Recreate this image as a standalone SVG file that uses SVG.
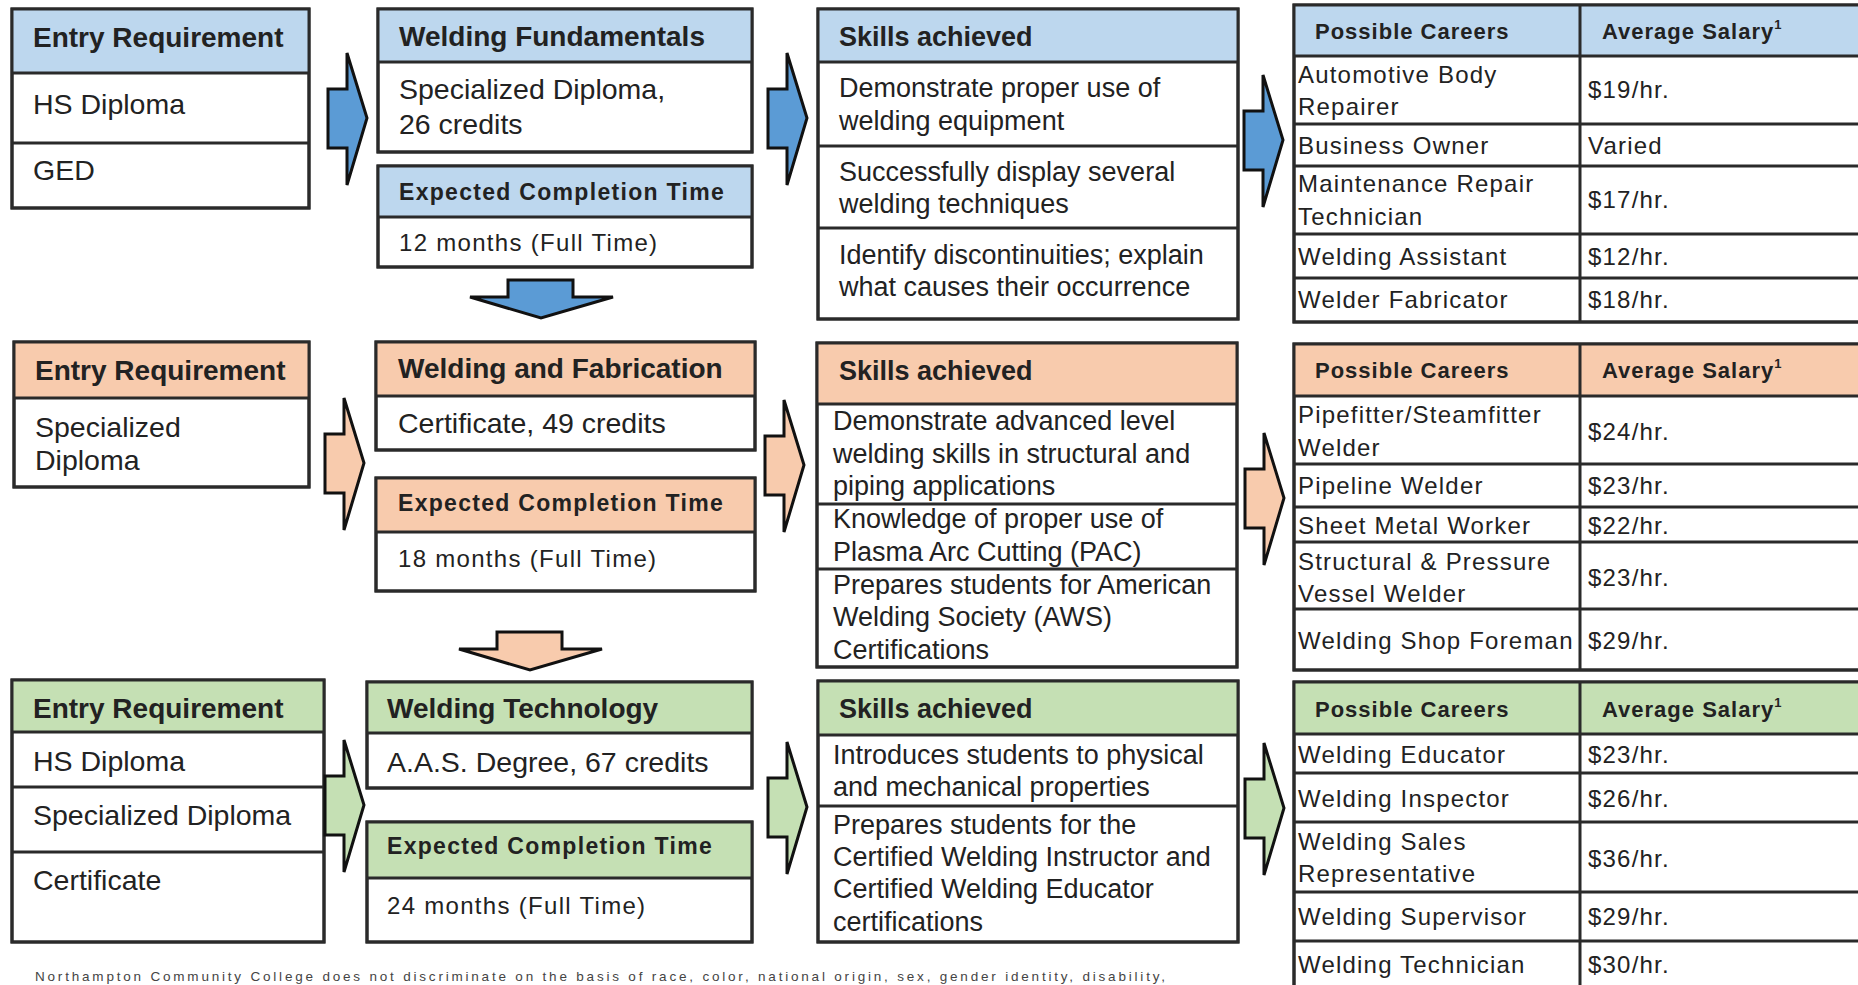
<svg xmlns="http://www.w3.org/2000/svg" xmlns:xlink="http://www.w3.org/1999/xlink" width="1858" height="985" viewBox="0 0 1858 985">
<defs>
<style>
.bx{fill:#ffffff;stroke:#2a2a2a;stroke-width:3}
.ol{fill:none;stroke:#2a2a2a;stroke-width:3}
.ln{stroke:#2a2a2a;stroke-width:3}
.hb{fill:#BDD7EE}.ho{fill:#F8CBAD}.hg{fill:#C5E0B4}
text{font-family:"Liberation Sans",Arial,sans-serif;fill:#222}
.h{font-size:28px;font-weight:bold}
.hs{font-size:27px;font-weight:bold}
.b{font-size:28.5px}
.s{font-size:27px}
.e{font-size:23px;font-weight:bold;letter-spacing:1.3px}
.m{font-size:24px;letter-spacing:1.3px}
.th{font-size:22px;font-weight:bold;letter-spacing:1px}
.tb{font-size:24px;letter-spacing:1.2px}
.sup{font-size:13px;font-weight:bold}
.ft{font-size:13.5px;fill:#444}
.ab{fill:#5B9BD5}.ao{fill:#F8CBAD}.ag{fill:#C5E0B4}
.ar{stroke:#111;stroke-width:3;stroke-linejoin:miter}
</style>
<path id="ra" d="M0,36 H19 V0 L39,65 L19,132 V95 H0 Z"/>
<path id="da" d="M38,0 H103 V17 H143 L71,38 L0,17 H38 Z"/>
</defs>
<rect width="1858" height="985" fill="#ffffff"/>

<!-- Row 1 (blue) -->
<g id="r1-entry">
<rect class="bx" x="12" y="9" width="297" height="199"/>
<rect class="hb" x="12" y="9" width="297" height="64"/>
<rect class="ol" x="12" y="9" width="297" height="199"/>
<line class="ln" x1="12" y1="73" x2="309" y2="73"/>
<line class="ln" x1="12" y1="143" x2="309" y2="143"/>
<text class="h" x="33" y="47">Entry Requirement</text>
<text class="b" x="33" y="114">HS Diploma</text>
<text class="b" x="33" y="180">GED</text>
</g>
<g id="r1-program">
<rect class="bx" x="378" y="9" width="374" height="143"/>
<rect class="hb" x="378" y="9" width="374" height="53"/>
<rect class="ol" x="378" y="9" width="374" height="143"/>
<line class="ln" x1="378" y1="62" x2="752" y2="62"/>
<text class="h" x="399" y="46">Welding Fundamentals</text>
<text class="b" x="399" y="99">Specialized Diploma,</text>
<text class="b" x="399" y="134">26 credits</text>
</g>
<g id="r1-time">
<rect class="bx" x="378" y="166" width="374" height="101"/>
<rect class="hb" x="378" y="166" width="374" height="51"/>
<rect class="ol" x="378" y="166" width="374" height="101"/>
<line class="ln" x1="378" y1="217" x2="752" y2="217"/>
<text class="e" x="399" y="200">Expected Completion Time</text>
<text class="m" x="399" y="251">12 months (Full Time)</text>
</g>
<g id="r1-skills">
<rect class="bx" x="818" y="9" width="420" height="310"/>
<rect class="hb" x="818" y="9" width="420" height="53"/>
<rect class="ol" x="818" y="9" width="420" height="310"/>
<line class="ln" x1="818" y1="62" x2="1238" y2="62"/>
<line class="ln" x1="818" y1="146" x2="1238" y2="146"/>
<line class="ln" x1="818" y1="228" x2="1238" y2="228"/>
<text class="hs" x="839" y="46">Skills achieved</text>
<text class="s" x="839" y="97">Demonstrate proper use of</text>
<text class="s" x="839" y="130">welding equipment</text>
<text class="s" x="839" y="181">Successfully display several</text>
<text class="s" x="839" y="213">welding techniques</text>
<text class="s" x="839" y="264">Identify discontinuities; explain</text>
<text class="s" x="839" y="296">what causes their occurrence</text>
</g>
<g id="r1-careers">
<rect class="bx" x="1294" y="5" width="580" height="317"/>
<rect class="hb" x="1294" y="5" width="580" height="51"/>
<rect class="ol" x="1294" y="5" width="580" height="317"/>
<line class="ln" x1="1294" y1="56" x2="1870" y2="56"/>
<line class="ln" x1="1294" y1="124" x2="1870" y2="124"/>
<line class="ln" x1="1294" y1="166" x2="1870" y2="166"/>
<line class="ln" x1="1294" y1="234" x2="1870" y2="234"/>
<line class="ln" x1="1294" y1="278" x2="1870" y2="278"/>
<line class="ln" x1="1580" y1="5" x2="1580" y2="322"/>
<text class="th" x="1315" y="39">Possible Careers</text>
<text class="th" x="1602" y="39">Average Salary<tspan class="sup" dy="-10">1</tspan></text>
<text class="tb" x="1298" y="83">Automotive Body</text>
<text class="tb" x="1298" y="115">Repairer</text>
<text class="tb" x="1588" y="98">$19/hr.</text>
<text class="tb" x="1298" y="154">Business Owner</text>
<text class="tb" x="1588" y="154">Varied</text>
<text class="tb" x="1298" y="192">Maintenance Repair</text>
<text class="tb" x="1298" y="225">Technician</text>
<text class="tb" x="1588" y="208">$17/hr.</text>
<text class="tb" x="1298" y="265">Welding Assistant</text>
<text class="tb" x="1588" y="265">$12/hr.</text>
<text class="tb" x="1298" y="308">Welder Fabricator</text>
<text class="tb" x="1588" y="308">$18/hr.</text>
</g>

<!-- Row 2 (orange) -->
<g id="r2-entry">
<rect class="bx" x="14" y="342" width="295" height="145"/>
<rect class="ho" x="14" y="342" width="295" height="56"/>
<rect class="ol" x="14" y="342" width="295" height="145"/>
<line class="ln" x1="14" y1="398" x2="309" y2="398"/>
<text class="h" x="35" y="380">Entry Requirement</text>
<text class="b" x="35" y="437">Specialized</text>
<text class="b" x="35" y="470">Diploma</text>
</g>
<g id="r2-program">
<rect class="bx" x="376" y="342" width="379" height="108"/>
<rect class="ho" x="376" y="342" width="379" height="54"/>
<rect class="ol" x="376" y="342" width="379" height="108"/>
<line class="ln" x1="376" y1="396" x2="755" y2="396"/>
<text class="h" x="398" y="378">Welding and Fabrication</text>
<text class="b" x="398" y="433">Certificate, 49 credits</text>
</g>
<g id="r2-time">
<rect class="bx" x="376" y="478" width="379" height="113"/>
<rect class="ho" x="376" y="478" width="379" height="54"/>
<rect class="ol" x="376" y="478" width="379" height="113"/>
<line class="ln" x1="376" y1="532" x2="755" y2="532"/>
<text class="e" x="398" y="511">Expected Completion Time</text>
<text class="m" x="398" y="567">18 months (Full Time)</text>
</g>
<g id="r2-skills">
<rect class="bx" x="817" y="343" width="420" height="324"/>
<rect class="ho" x="817" y="343" width="420" height="61"/>
<rect class="ol" x="817" y="343" width="420" height="324"/>
<line class="ln" x1="817" y1="404" x2="1237" y2="404"/>
<line class="ln" x1="817" y1="504" x2="1237" y2="504"/>
<line class="ln" x1="817" y1="569" x2="1237" y2="569"/>
<text class="hs" x="839" y="380">Skills achieved</text>
<text class="s" x="833" y="430">Demonstrate advanced level</text>
<text class="s" x="833" y="463">welding skills in structural and</text>
<text class="s" x="833" y="495">piping applications</text>
<text class="s" x="833" y="528">Knowledge of proper use of</text>
<text class="s" x="833" y="561">Plasma Arc Cutting (PAC)</text>
<text class="s" x="833" y="594">Prepares students for American</text>
<text class="s" x="833" y="626">Welding Society (AWS)</text>
<text class="s" x="833" y="659">Certifications</text>
</g>
<g id="r2-careers">
<rect class="bx" x="1294" y="344" width="580" height="326"/>
<rect class="ho" x="1294" y="344" width="580" height="52"/>
<rect class="ol" x="1294" y="344" width="580" height="326"/>
<line class="ln" x1="1294" y1="396" x2="1870" y2="396"/>
<line class="ln" x1="1294" y1="464" x2="1870" y2="464"/>
<line class="ln" x1="1294" y1="507" x2="1870" y2="507"/>
<line class="ln" x1="1294" y1="542" x2="1870" y2="542"/>
<line class="ln" x1="1294" y1="609" x2="1870" y2="609"/>
<line class="ln" x1="1580" y1="344" x2="1580" y2="670"/>
<text class="th" x="1315" y="378">Possible Careers</text>
<text class="th" x="1602" y="378">Average Salary<tspan class="sup" dy="-10">1</tspan></text>
<text class="tb" x="1298" y="423">Pipefitter/Steamfitter</text>
<text class="tb" x="1298" y="456">Welder</text>
<text class="tb" x="1588" y="440">$24/hr.</text>
<text class="tb" x="1298" y="494">Pipeline Welder</text>
<text class="tb" x="1588" y="494">$23/hr.</text>
<text class="tb" x="1298" y="534">Sheet Metal Worker</text>
<text class="tb" x="1588" y="534">$22/hr.</text>
<text class="tb" x="1298" y="570">Structural &amp; Pressure</text>
<text class="tb" x="1298" y="602">Vessel Welder</text>
<text class="tb" x="1588" y="586">$23/hr.</text>
<text class="tb" x="1298" y="649">Welding Shop Foreman</text>
<text class="tb" x="1588" y="649">$29/hr.</text>
</g>

<!-- Row 3 (green) -->
<g id="r3-entry">
<rect class="bx" x="12" y="680" width="312" height="262"/>
<rect class="hg" x="12" y="680" width="312" height="52"/>
<rect class="ol" x="12" y="680" width="312" height="262"/>
<line class="ln" x1="12" y1="732" x2="324" y2="732"/>
<line class="ln" x1="12" y1="787" x2="324" y2="787"/>
<line class="ln" x1="12" y1="852" x2="324" y2="852"/>
<text class="h" x="33" y="718">Entry Requirement</text>
<text class="b" x="33" y="771">HS Diploma</text>
<text class="b" x="33" y="825">Specialized Diploma</text>
<text class="b" x="33" y="890">Certificate</text>
</g>
<g id="r3-program">
<rect class="bx" x="367" y="682" width="385" height="106"/>
<rect class="hg" x="367" y="682" width="385" height="51"/>
<rect class="ol" x="367" y="682" width="385" height="106"/>
<line class="ln" x1="367" y1="733" x2="752" y2="733"/>
<text class="h" x="387" y="718">Welding Technology</text>
<text class="b" x="387" y="772">A.A.S. Degree, 67 credits</text>
</g>
<g id="r3-time">
<rect class="bx" x="367" y="822" width="385" height="120"/>
<rect class="hg" x="367" y="822" width="385" height="56"/>
<rect class="ol" x="367" y="822" width="385" height="120"/>
<line class="ln" x1="367" y1="878" x2="752" y2="878"/>
<text class="e" x="387" y="854">Expected Completion Time</text>
<text class="m" x="387" y="914">24 months (Full Time)</text>
</g>
<g id="r3-skills">
<rect class="bx" x="818" y="681" width="420" height="261"/>
<rect class="hg" x="818" y="681" width="420" height="54"/>
<rect class="ol" x="818" y="681" width="420" height="261"/>
<line class="ln" x1="818" y1="735" x2="1238" y2="735"/>
<line class="ln" x1="818" y1="806" x2="1238" y2="806"/>
<text class="hs" x="839" y="718">Skills achieved</text>
<text class="s" x="833" y="764">Introduces students to physical</text>
<text class="s" x="833" y="796">and mechanical properties</text>
<text class="s" x="833" y="834">Prepares students for the</text>
<text class="s" x="833" y="866">Certified Welding Instructor and</text>
<text class="s" x="833" y="898">Certified Welding Educator</text>
<text class="s" x="833" y="931">certifications</text>
</g>
<g id="r3-careers">
<rect class="bx" x="1294" y="682" width="580" height="320"/>
<rect class="hg" x="1294" y="682" width="580" height="52"/>
<rect class="ol" x="1294" y="682" width="580" height="320"/>
<line class="ln" x1="1294" y1="734" x2="1870" y2="734"/>
<line class="ln" x1="1294" y1="773" x2="1870" y2="773"/>
<line class="ln" x1="1294" y1="822" x2="1870" y2="822"/>
<line class="ln" x1="1294" y1="892" x2="1870" y2="892"/>
<line class="ln" x1="1294" y1="941" x2="1870" y2="941"/>
<line class="ln" x1="1580" y1="682" x2="1580" y2="1002"/>
<text class="th" x="1315" y="717">Possible Careers</text>
<text class="th" x="1602" y="717">Average Salary<tspan class="sup" dy="-10">1</tspan></text>
<text class="tb" x="1298" y="763">Welding Educator</text>
<text class="tb" x="1588" y="763">$23/hr.</text>
<text class="tb" x="1298" y="807">Welding Inspector</text>
<text class="tb" x="1588" y="807">$26/hr.</text>
<text class="tb" x="1298" y="850">Welding Sales</text>
<text class="tb" x="1298" y="882">Representative</text>
<text class="tb" x="1588" y="867">$36/hr.</text>
<text class="tb" x="1298" y="925">Welding Supervisor</text>
<text class="tb" x="1588" y="925">$29/hr.</text>
<text class="tb" x="1298" y="973">Welding Technician</text>
<text class="tb" x="1588" y="973">$30/hr.</text>
</g>

<!-- Connectors -->
<g id="connectors" class="ar">
<use xlink:href="#ra" href="#ra" class="ab" x="328" y="53"/>
<use xlink:href="#ra" href="#ra" class="ab" x="768" y="53"/>
<use xlink:href="#ra" href="#ra" class="ab" x="1244" y="75"/>
<use xlink:href="#da" href="#da" class="ab" x="470" y="280"/>
<use xlink:href="#ra" href="#ra" class="ao" x="325" y="398"/>
<use xlink:href="#ra" href="#ra" class="ao" x="765" y="400"/>
<use xlink:href="#ra" href="#ra" class="ao" x="1245" y="433"/>
<use xlink:href="#da" href="#da" class="ao" x="459" y="632"/>
<use xlink:href="#ra" href="#ra" class="ag" x="325" y="740"/>
<use xlink:href="#ra" href="#ra" class="ag" x="768" y="742"/>
<use xlink:href="#ra" href="#ra" class="ag" x="1245" y="743"/>
</g>

<text class="ft" x="35" y="981" textLength="1130">Northampton Community College does not discriminate on the basis of race, color, national origin, sex, gender identity, disability,</text>
</svg>
